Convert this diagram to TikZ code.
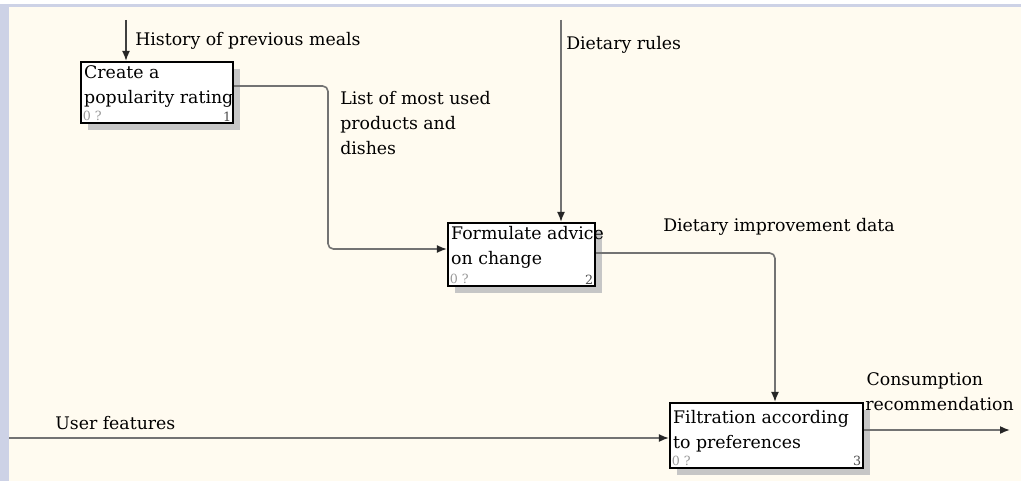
\documentclass[tikz,border=0pt]{standalone}
\usepackage{fontspec}
\setmainfont{DejaVu Serif}
\usetikzlibrary{arrows.meta,positioning,shadows}

\definecolor{paper}{RGB}{255,251,240}
\definecolor{frame}{RGB}{205,210,230}
\definecolor{wire}{RGB}{115,115,115}

\begin{document}
\begin{tikzpicture}[
  x=0.75pt,y=-0.75pt,
  func/.style={draw,line width=1.6pt,fill=white,inner sep=0pt,
    drop shadow={shadow xshift=5pt,shadow yshift=-5pt,fill=gray!45,opacity=1}},
  txt/.style={inner sep=0pt,anchor=north west,align=left,
    font=\fontsize{13}{18.75}\selectfont},
  tag/.style={inner sep=2pt,font=\fontsize{9.5}{10}\selectfont,text=gray!80},
  flow/.style={-{Latex[length=7.5pt,width=6pt,black!85]},wire,line width=1.2pt,rounded corners=4pt}
]
  % paper and window frame
  \fill[white] (0,0) rectangle (1021,481);
  \fill[paper] (0,6) rectangle (1021,481);
  \fill[frame] (0,4) rectangle (1021,7);
  \fill[frame] (0,4) rectangle (9,481);
  \useasboundingbox (0,0) rectangle (1021,481);

  % activity boxes
  \node[func,minimum width=114pt,minimum height=45.75pt] (popularity) at (157,92.5) {};
  \node[func,minimum width=110.25pt,minimum height=47.25pt] (advice) at (521.5,254.5) {};
  \node[func,minimum width=144.75pt,minimum height=48.75pt] (filtration) at (766.5,435.5) {};

  \node[txt] (popularityname) at ([xshift=3pt,yshift=-3pt]popularity.north west) {Create a\\popularity rating};
  \node[txt] (advicename) at ([xshift=3pt,yshift=-3pt]advice.north west) {Formulate advice\\on change};
  \node[txt] (filtrationname) at ([xshift=3pt,yshift=-6pt]filtration.north west) {Filtration according\\to preferences};

  \node[tag,anchor=south west] (popularitycost) at (popularity.south west) {0 ?};
  \node[tag,anchor=south east,text=black!70] (popularitynum) at (popularity.south east) {1};
  \node[tag,anchor=south west] (advicecost) at (advice.south west) {0 ?};
  \node[tag,anchor=south east,text=black!70] (advicenum) at (advice.south east) {2};
  \node[tag,anchor=south west] (filtrationcost) at (filtration.south west) {0 ?};
  \node[tag,anchor=south east,text=black!70] (filtrationnum) at (filtration.south east) {3};

  % free ends
  \coordinate (meals) at (126,20);
  \coordinate (rules) at (561,20);
  \coordinate (user) at (9,438);
  \coordinate (result) at (1010,430);

  % arrows
  \draw[flow,black!75] (meals) -- (popularity.north -| meals);
  \draw[flow] (rules) -- (advice.north -| rules);
  \draw[flow] (popularity.east |- 0,86) -- (328,86) -- (328,249) -- (advice.west |- 0,249);
  \draw[flow] (advice.east |- 0,253) -- (775,253) -- (filtration.north -| 775,0);
  \draw[flow] (user) -- (filtration.west |- user);
  \draw[flow] (filtration.east |- result) -- (result);

  % arrow labels
  \node[txt] (mealslabel) at (135,32) {History of previous meals};
  \node[txt] (ruleslabel) at (566,36) {Dietary rules};
  \node[txt] (listlabel) at (340,91) {List of most used\\products and\\dishes};
  \node[txt] (improvelabel) at (663,218) {Dietary improvement data};
  \node[txt] (userlabel) at (55,416) {User features};
  \node[txt] (resultlabel) at (865,372) {\hspace*{1pt}Consumption\\recommendation};
\end{tikzpicture}
\end{document}
